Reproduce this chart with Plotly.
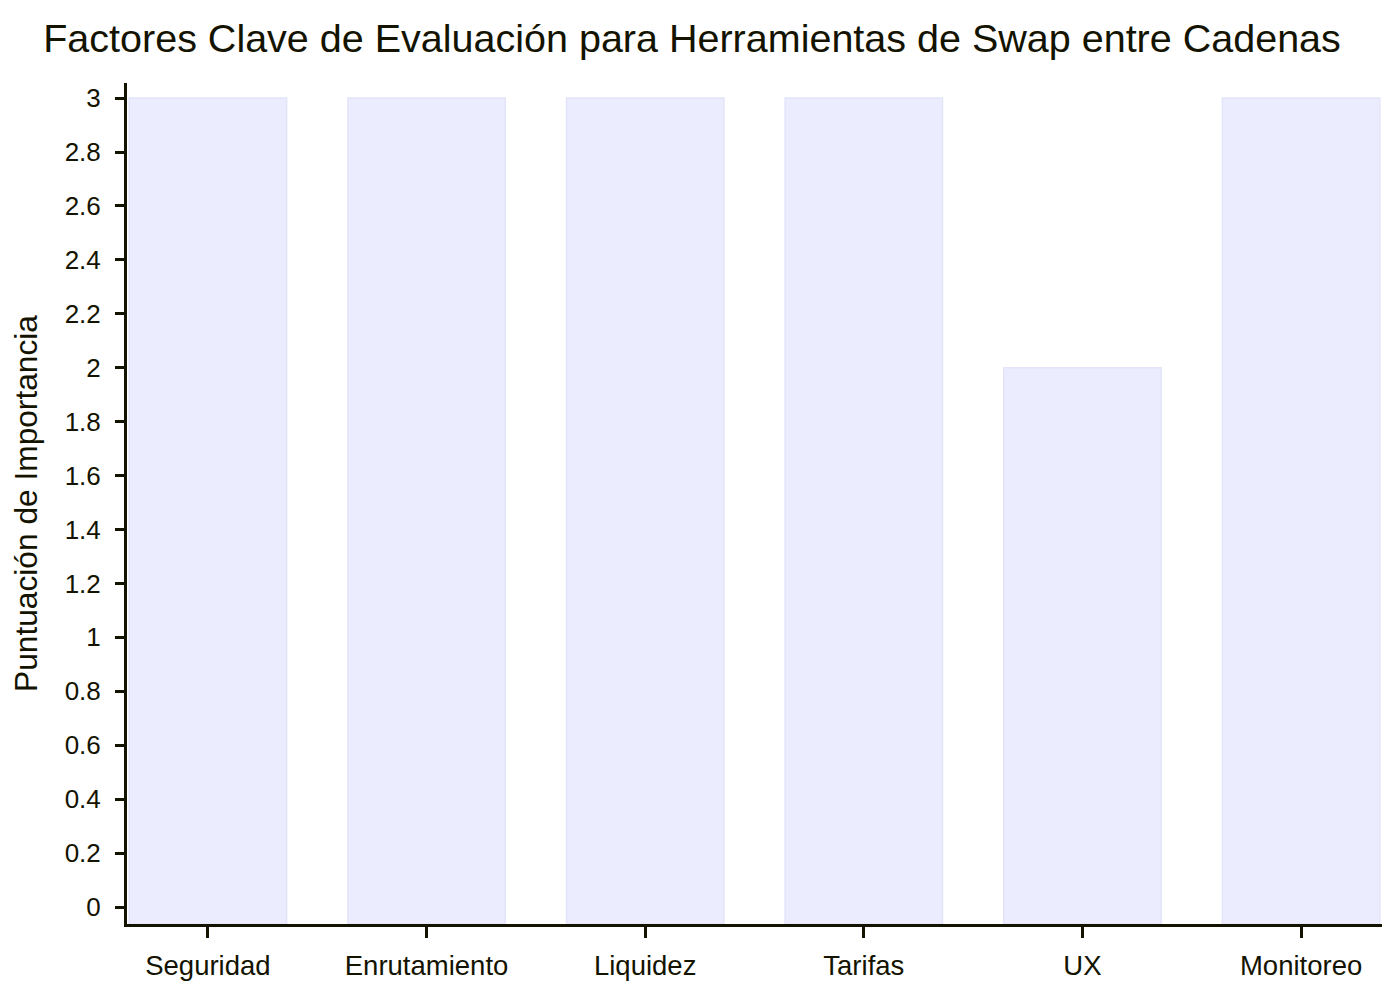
import plotly.graph_objects as go

# datos
factores = ['Seguridad', 'Enrutamiento', 'Liquidez', 'Tarifas', 'UX', 'Monitoreo']
puntuacion = [3, 3, 3, 3, 2, 3]
y_ticks = [round(i * 0.2, 1) for i in range(16)]

texto = '#131300'
y_range = [-0.063, 3.056]

fig = go.Figure(go.Bar(
    x=factores,
    y=[v - y_range[0] for v in puntuacion],
    base=y_range[0],
    marker=dict(color='#ECECFF', line=dict(color='#E4E4F9', width=1.5)),
    width=0.72,
))

fig.update_layout(
    width=1400, height=1000,
    paper_bgcolor='white', plot_bgcolor='white',
    font=dict(family='Liberation Sans, Arial, sans-serif', color=texto, size=26),
    title=dict(text='Factores Clave de Evaluación para Herramientas de Swap entre Cadenas',
               x=0.4886, xanchor='center', y=0.97, yanchor='middle',
               font=dict(size=39.5, color=texto)),
    margin=dict(l=119, r=26, t=75, b=84),
    showlegend=False,
    xaxis=dict(
        range=[-0.37, 5.37],
        showline=True, linewidth=3, linecolor=texto,
        ticks='outside', ticklen=11, tickwidth=3, tickcolor=texto,
        ticklabelstandoff=4,
        tickfont=dict(size=27.5),
        showgrid=False, zeroline=False,
    ),
    yaxis=dict(
        range=y_range,
        tickvals=y_ticks,
        ticktext=[f'{v:g}' for v in y_ticks],
        showline=True, linewidth=3, linecolor=texto,
        ticks='outside', ticklen=9, tickwidth=3, tickcolor=texto,
        ticklabelstandoff=9,
        showgrid=False, zeroline=False,
        title=dict(text='Puntuación de Importancia', font=dict(size=31.7), standoff=22),
    ),
)

fig.write_html('out.html')
